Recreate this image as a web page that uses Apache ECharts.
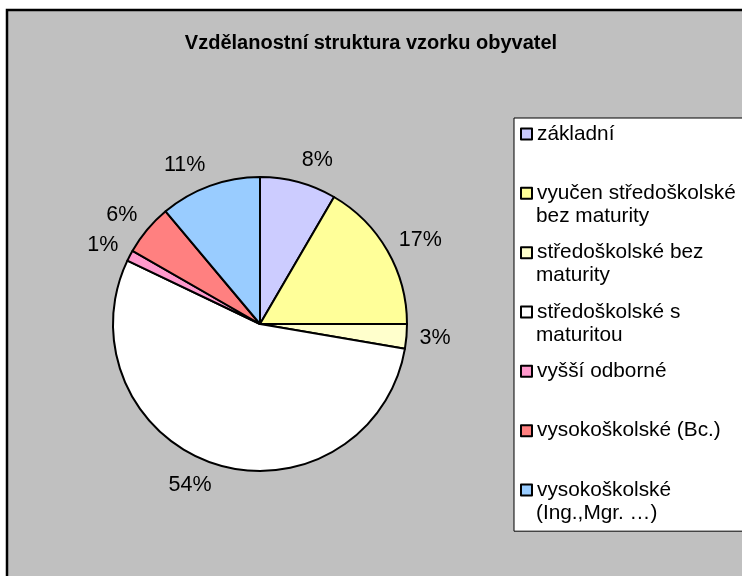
<!DOCTYPE html>
<html><head><meta charset="utf-8">
<script src="https://cdn.jsdelivr.net/npm/echarts@6/dist/echarts.min.js"></script>
<style>html,body{margin:0;padding:0;background:#fff}#c{width:742px;height:576px}</style>
</head><body><div id="c"></div><script>
const titleText = 'Vzdělanostní struktura vzorku obyvatel';
const categories = ['základní','vyučen středoškolské bez maturity','středoškolské bez maturity','středoškolské s maturitou','vyšší odborné','vysokoškolské (Bc.)','vysokoškolské (Ing.,Mgr. …)'];
const legendLine1 = ['základní','vyučen středoškolské','středoškolské bez','středoškolské s','vyšší odborné','vysokoškolské (Bc.)','vysokoškolské'];
const legendLine2 = [' ','bez maturity','maturity','maturitou',' ',' ','(Ing.,Mgr. …)'];
const values = [8.4, 16.6, 2.7, 54.4, 1.2, 5.6, 11.1];
const colors = ['#CCCCFF','#FFFF99','#FFFFCC','#FFFFFF','#FF99CC','#FF8080','#99CCFF'];

const FONT = "'Liberation Sans', Arial, sans-serif";
const CX = 260, CY = 324, R = 147;
const total = values.reduce((a,b)=>a+b,0);
const LEG_FS = 20.8, LEG_LH = 23, LEG_STEP = 59.33;

const legendCommon = {
  orient: 'vertical', left: 514,
  data: categories,
  itemWidth: 11, itemHeight: 11, itemGap: LEG_STEP - LEG_LH,
  icon: 'rect',
  selectedMode: false,
  textStyle: {fontFamily: FONT, fontSize: LEG_FS, color: '#000', lineHeight: LEG_LH}
};

const chart = echarts.init(document.getElementById('c'));
chart.setOption({
  backgroundColor: '#ffffff',
  animation: false,
  graphic: [{
    type: 'rect', z: -10, silent: true,
    shape: {x: 7, y: 10, width: 800, height: 700},
    style: {fill: '#C0C0C0', stroke: '#000', lineWidth: 2.5}
  }],
  title: {
    text: titleText, left: 'center', top: 33, padding: 0,
    textStyle: {fontFamily: FONT, fontSize: 20, fontWeight: 'bold', color: '#000'}
  },
  legend: [
    Object.assign({}, legendCommon, {
      top: 118, z: 4,
      formatter: n => legendLine1[categories.indexOf(n)],
      itemStyle: {borderColor: '#000', borderWidth: 2},
      backgroundColor: '#fff', borderColor: '#000', borderWidth: 1,
      padding: [4.5, 20, 29.7, 6]
    }),
    Object.assign({}, legendCommon, {
      top: 118 + 4.5 + LEG_LH, z: 5,
      formatter: n => legendLine2[categories.indexOf(n)],
      itemStyle: {opacity: 0, borderWidth: 0},
      padding: [0, 0, 0, 6]
    })
  ],
  series: [{
    type: 'pie',
    center: [CX, CY], radius: R,
    startAngle: 90, clockwise: true,
    avoidLabelOverlap: false,
    itemStyle: {borderColor: '#000', borderWidth: 2},
    emphasis: {disabled: true},
    label: {
      show: true, position: 'outside',
      formatter: p => Math.round(p.value / total * 100) + '%',
      fontFamily: FONT, fontSize: 21.5, color: '#000'
    },
    labelLine: {show: false},
    labelLayout: function (p) {
      const i = p.dataIndex;
      let cum = 0; for (let k = 0; k < i; k++) cum += values[k];
      const mid = (cum + values[i] / 2) / total * 2 * Math.PI;
      const ux = Math.sin(mid), uy = -Math.cos(mid);
      const w = p.labelRect.width, h = p.labelRect.height * 0.85;
      const d = R + 13;
      return {x: CX + ux * d + Math.sign(ux) * w / 2, y: CY + uy * d + uy * h / 2, align: 'center', verticalAlign: 'middle'};
    },
    data: categories.map((c, i) => ({name: c, value: values[i], itemStyle: {color: colors[i]}}))
  }]
});
</script></body></html>
